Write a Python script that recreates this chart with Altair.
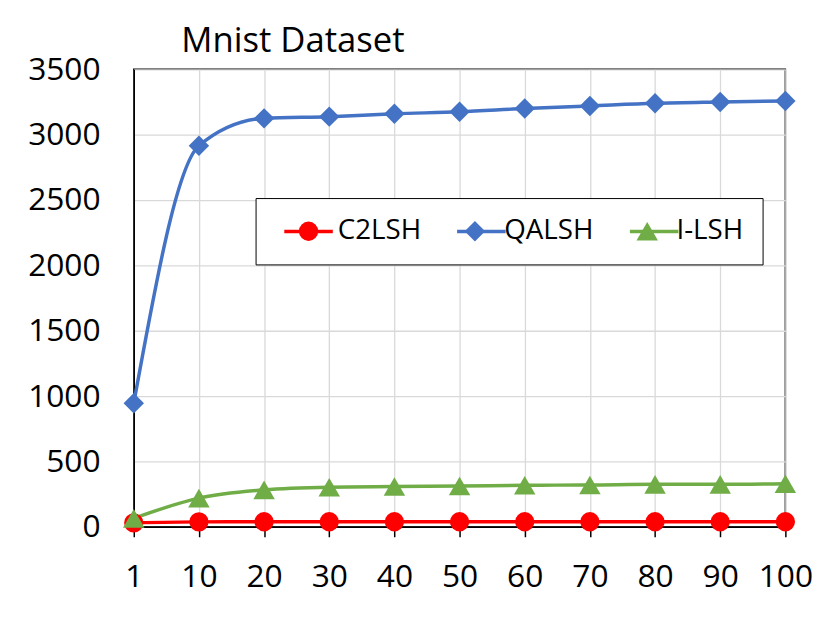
import altair as alt
import pandas as pd

# ---- data ----
x_labels = ["1", "10", "20", "30", "40", "50", "60", "70", "80", "90", "100"]
series_names = ["C2LSH", "QALSH", "I-LSH"]
c2lsh = [30, 38, 39, 39, 39, 39, 39, 39, 39, 39, 39]
qalsh = [945, 2915, 3125, 3138, 3160, 3175, 3200, 3220, 3240, 3250, 3258]
ilsh = [65, 220, 283, 303, 308, 312, 318, 320, 325, 325, 330]
y_ticks = [0, 500, 1000, 1500, 2000, 2500, 3000, 3500]

# ---- styles ----
colors = ["#FF0000", "#4472C4", "#70AD47"]
marker_shapes = ["circle", "diamond", "triangle-up"]
marker_sizes = [380, 470, 470]
FONT = "Open Sans"

rows = []
for name, vals in zip(series_names, [c2lsh, qalsh, ilsh]):
    for k, v in zip(x_labels, vals):
        rows.append({"k": k, "series": name, "series2": name, "value": v})
df = pd.DataFrame(rows)

x_enc = alt.X("k:O", sort=x_labels, scale=alt.Scale(type="point", padding=0),
    axis=alt.Axis(title=None, labelAngle=0, grid=True, ticks=True, tickSize=10,
        tickColor="black", tickWidth=1.5, labelPadding=25, labelFontSize=32, labelFont=FONT,
        labelColor="black", domainColor="black", domainWidth=1.5, gridColor="#D9D9D9", gridWidth=1.3))
y_enc = alt.Y("value:Q", scale=alt.Scale(domain=[0, 3500], nice=False),
    axis=alt.Axis(title=None, values=y_ticks, format="d", ticks=False, labelPadding=34,
        labelFontSize=32, labelFont=FONT, labelColor="black", domainColor="black", domainWidth=1.5,
        gridColor="#D9D9D9", gridWidth=1.3))

base = alt.Chart(df)

# marker legend: box, white fill and the labels
leg_marks = alt.Legend(title=None, orient="none", legendX=123, legendY=130, direction="horizontal",
    labelFont=FONT, labelFontSize=28, labelColor="black",
    symbolSize=484, symbolStrokeWidth=0, symbolOpacity=1, symbolOffset=20, labelOffset=15.5,
    columnPadding=20, padding=19.5, strokeColor="black", fillColor="white", zindex=2)

# line-stub legend laid over the markers (no labels, no box)
leg_lines = alt.Legend(title=None, orient="none", legendX=123, legendY=117.5, direction="horizontal",
    labelFont=FONT, labelFontSize=28, labelExpr="''",
    symbolSize=2401, symbolStrokeWidth=3.5, symbolOffset=7.5, labelOffset=0,
    columnPadding=108.5, padding=19.5, zindex=3)

lines = base.mark_line(interpolate="monotone", strokeWidth=3.5).encode(
    x=x_enc, y=y_enc,
    stroke=alt.Stroke("series2:N", sort=series_names, scale=alt.Scale(range=colors), legend=leg_lines))

points = base.mark_point(filled=True, opacity=1).encode(
    x=x_enc, y=y_enc,
    color=alt.Color("series:N", scale=alt.Scale(domain=series_names, range=colors), legend=leg_marks),
    shape=alt.Shape("series:N", scale=alt.Scale(domain=series_names, range=marker_shapes), legend=leg_marks),
    size=alt.Size("series:N", scale=alt.Scale(domain=series_names, range=marker_sizes), legend=None),
)

chart = alt.layer(lines, points).properties(
    width=658, height=462,
    title=alt.TitleParams(text="Mnist Dataset", anchor="start", frame="group", fontSize=35,
        font=FONT, fontWeight="normal", color="black", dx=48, offset=-6),
    padding={"left": 19, "top": 14, "right": 10, "bottom": 10},
    background="white",
).configure_view(stroke="black", strokeWidth=1.5)

chart.save("out.html", embed_options={"renderer": "svg", "actions": False})
